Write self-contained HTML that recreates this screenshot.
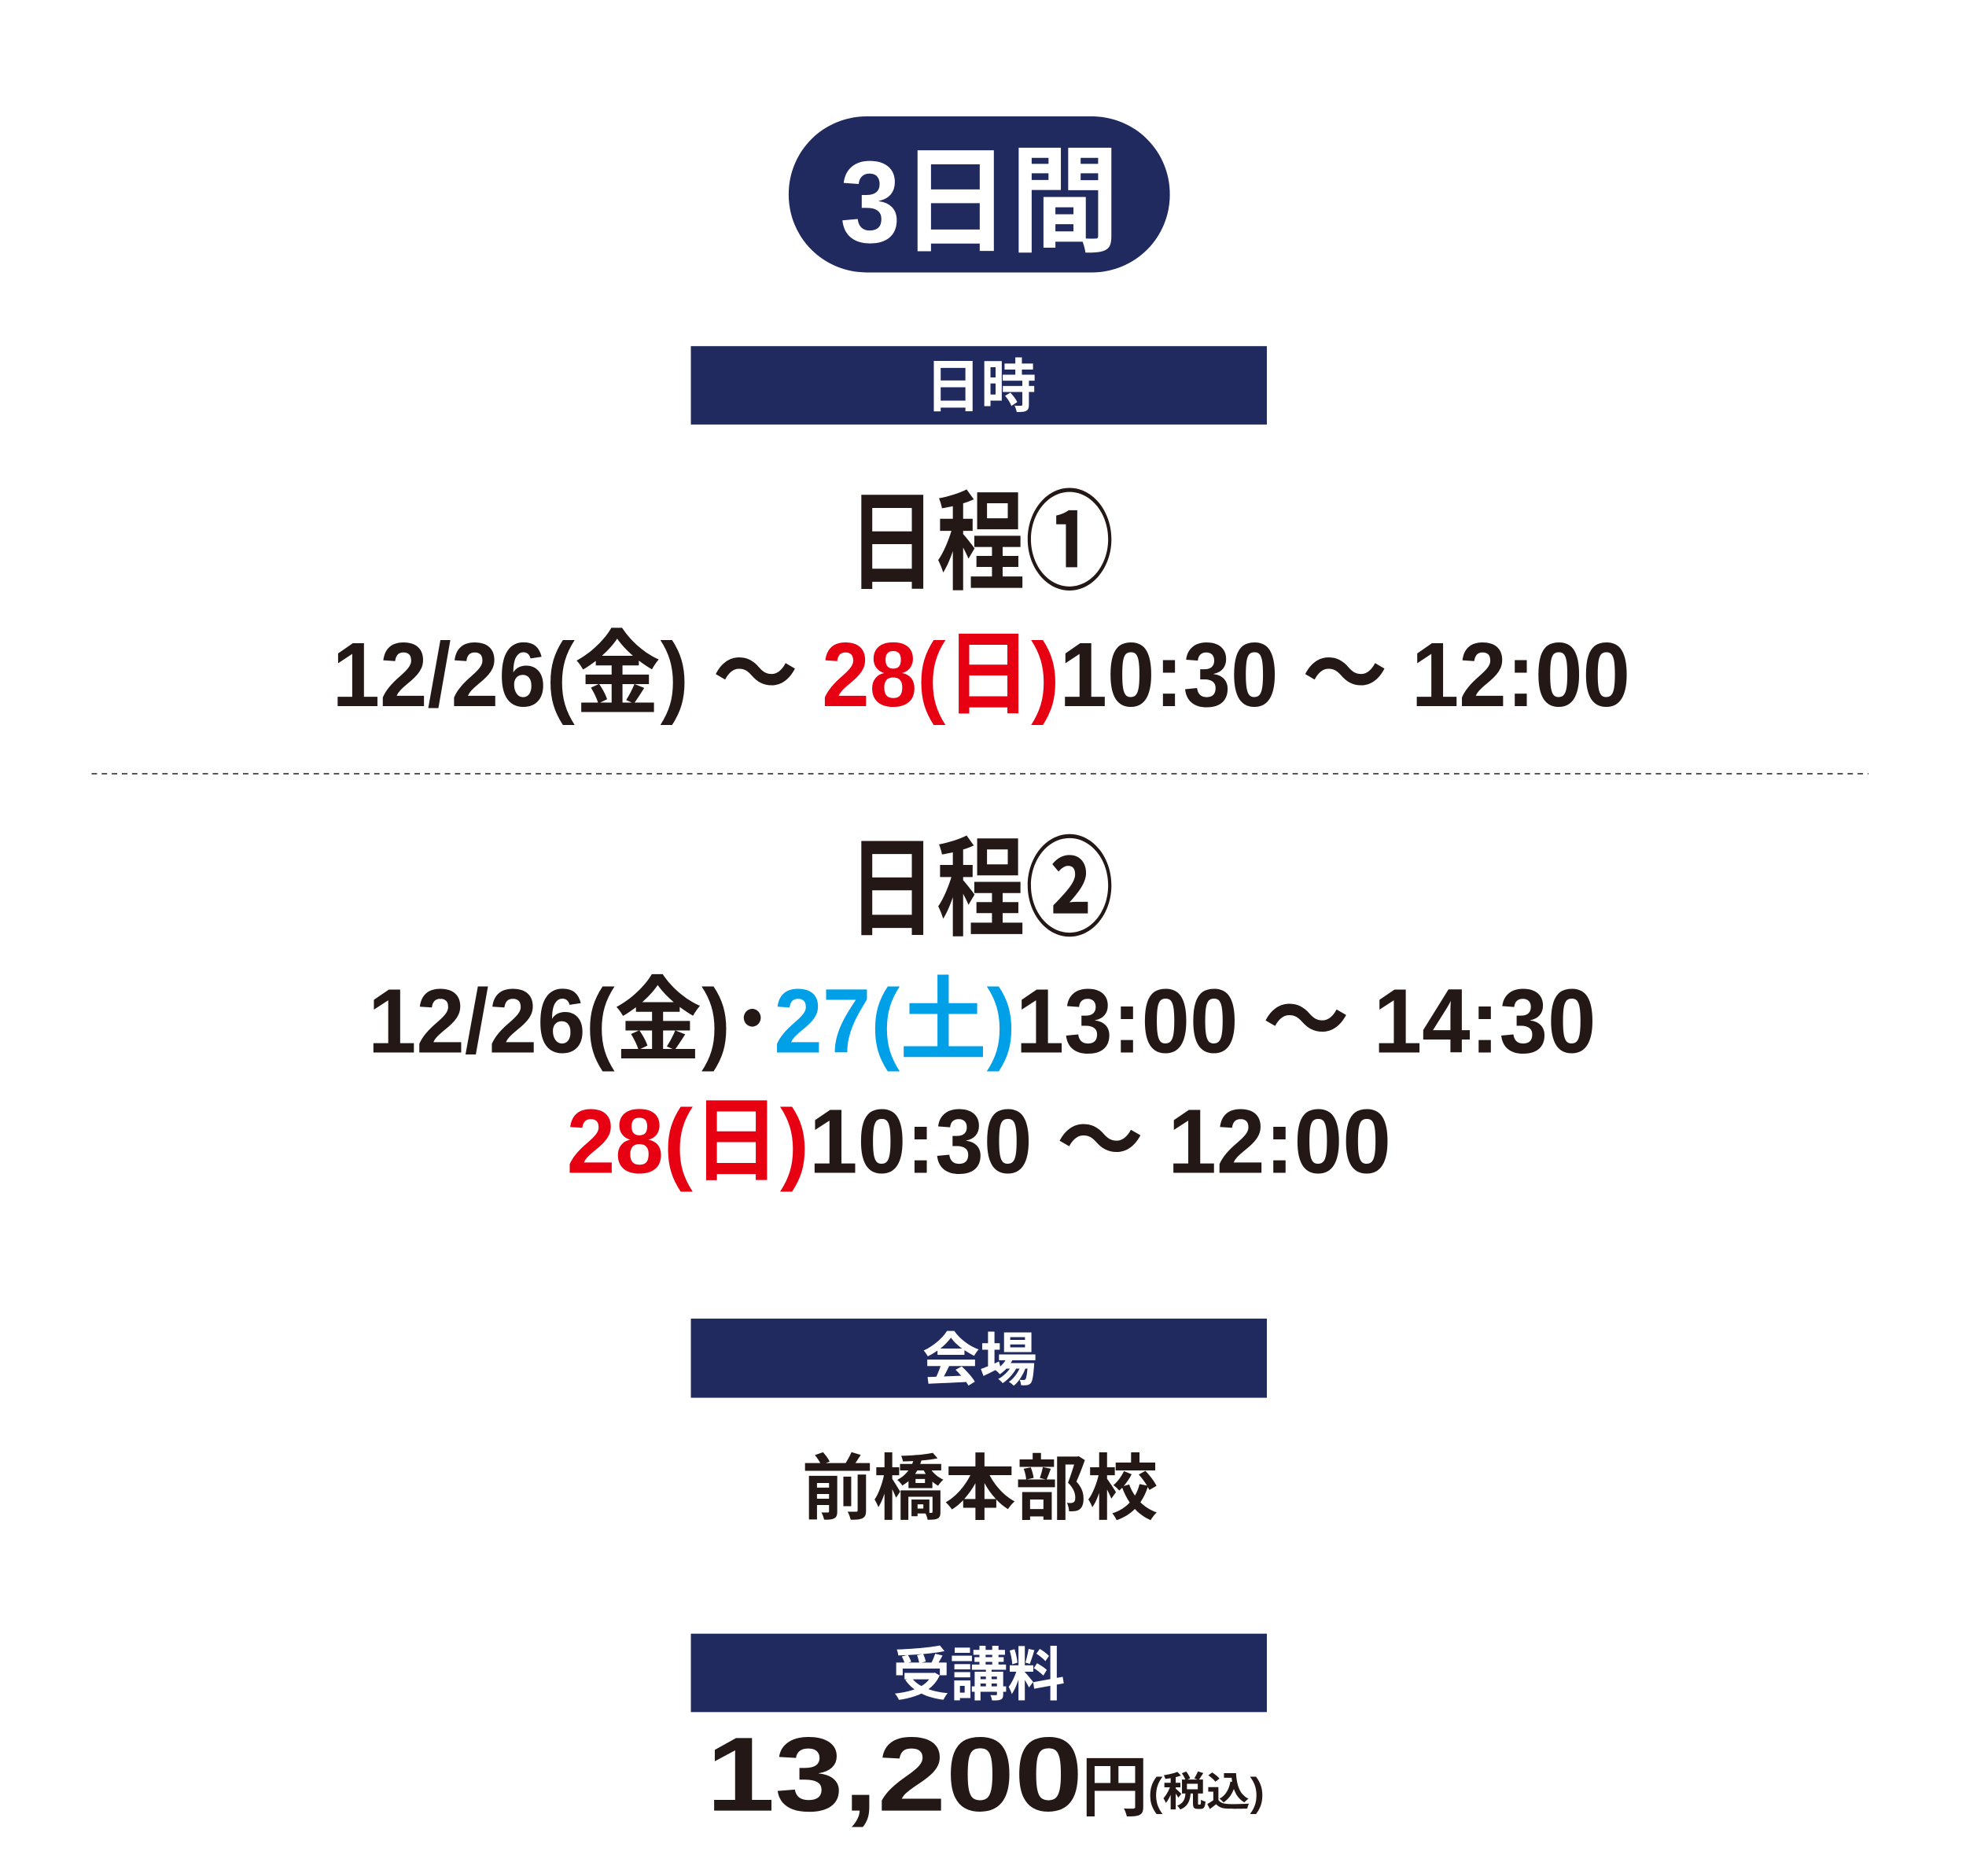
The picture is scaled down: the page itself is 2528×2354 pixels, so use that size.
<!DOCTYPE html>
<html><head><meta charset="utf-8"><style>
html,body{margin:0;padding:0;background:#fff;}
svg{display:block;}
text{font-family:"Liberation Sans","Noto Sans CJK JP",sans-serif;font-weight:bold;}
</style></head><body>
<svg width="2528" height="2354" viewBox="0 0 2561 2385" preserveAspectRatio="none" xmlns="http://www.w3.org/2000/svg">
<rect width="2561" height="2385" fill="#fff"/>
<rect x="1016" y="150" width="491" height="201" rx="100" fill="#202a5e"/>
<text x="1082" y="312" font-size="150" fill="#fff" textLength="360" lengthAdjust="spacingAndGlyphs">3日間</text>

<rect x="890" y="446" width="742" height="101" fill="#202a5e"/>
<text x="1192" y="524" font-size="74" fill="#fff" textLength="143" lengthAdjust="spacingAndGlyphs">日時</text>

<text x="1092" y="748" font-size="140" fill="#231815" textLength="343" lengthAdjust="spacingAndGlyphs">日程①</text>
<text x="428" y="910" font-size="118" fill="#231815" textLength="1672" lengthAdjust="spacingAndGlyphs">12/26(金) ～ <tspan fill="#e60012">28(日)</tspan>10:30 ～ 12:00</text>

<line x1="118" y1="997" x2="2407" y2="997" stroke="#555" stroke-width="2" stroke-dasharray="7,6"/>

<text x="1092" y="1194" font-size="140" fill="#231815" textLength="343" lengthAdjust="spacingAndGlyphs">日程②</text>
<text x="474" y="1356" font-size="118" fill="#231815" textLength="1582" lengthAdjust="spacingAndGlyphs">12/26(金)･<tspan fill="#00a0e9">27(土)</tspan>13:00 ～ 14:30</text>
<text x="730" y="1511" font-size="118" fill="#231815" textLength="1062" lengthAdjust="spacingAndGlyphs"><tspan fill="#e60012">28(日)</tspan>10:30 ～ 12:00</text>

<rect x="890" y="1699" width="742" height="102" fill="#202a5e"/>
<text x="1188" y="1778" font-size="74" fill="#fff" textLength="148" lengthAdjust="spacingAndGlyphs">会場</text>

<text x="1033" y="1950" font-size="92" fill="#231815" textLength="459" lengthAdjust="spacingAndGlyphs">前橋本部校</text>

<rect x="890" y="2105" width="742" height="101" fill="#202a5e"/>
<text x="1150" y="2184" font-size="74" fill="#fff" textLength="222" lengthAdjust="spacingAndGlyphs">受講料</text>

<text x="910" y="2333" font-size="136" fill="#231815" textLength="485" lengthAdjust="spacingAndGlyphs">13,200</text>
<text x="1393" y="2333" font-size="86" fill="#231815" textLength="86" lengthAdjust="spacingAndGlyphs">円</text>
<text x="1479" y="2327" font-size="52" fill="#231815" textLength="150" lengthAdjust="spacingAndGlyphs">(税込)</text>
</svg>
</body></html>
